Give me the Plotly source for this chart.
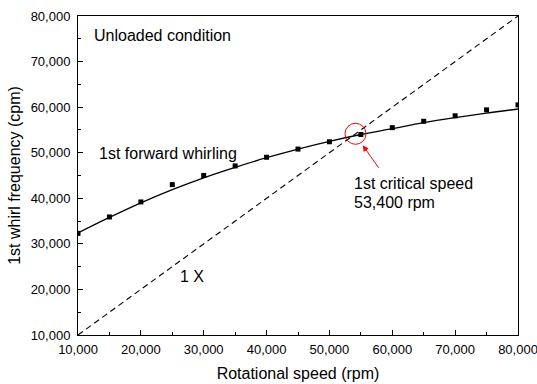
import plotly.graph_objects as go

# Measured data points
speed_rpm = [10000, 15000, 20000, 25000, 30000, 35000, 40000, 45000,
             50000, 55000, 60000, 65000, 70000, 75000, 80000]
whirl_cpm = [32300, 35900, 39200, 43000, 45000, 47100, 49000, 50800,
             52400, 54000, 55500, 56900, 58100, 59400, 60500]

# Fitted curve
fit_speed = [10000, 15000, 20000, 25000, 30000, 35000, 40000, 45000,
             50000, 55000, 60000, 65000, 70000, 75000, 80000]
fit_cpm = [32400, 35800, 39000, 41900, 44500, 46800, 48900, 50800,
           52500, 54000, 55300, 56600, 57700, 58700, 59600]

# 1X line
onex_speed = [10000, 80000]
onex_cpm = [10000, 80000]

tick_vals = [10000, 20000, 30000, 40000, 50000, 60000, 70000, 80000]
tick_text = ["10,000", "20,000", "30,000", "40,000", "50,000", "60,000", "70,000", "80,000"]

FONT = "Liberation Sans, Arial, sans-serif"

fig = go.Figure()
fig.add_trace(go.Scatter(x=onex_speed, y=onex_cpm, mode="lines",
                         line=dict(color="black", width=1.1, dash="6px,4px"),
                         showlegend=False, hoverinfo="skip"))
fig.add_trace(go.Scatter(x=fit_speed, y=fit_cpm, mode="lines", line_shape="spline",
                         line=dict(color="black", width=1.3),
                         showlegend=False))
fig.add_trace(go.Scatter(x=speed_rpm, y=whirl_cpm, mode="markers",
                         marker=dict(symbol="square", size=5, color="black"),
                         showlegend=False))

axis_common = dict(
    range=[10000, 80000], tickvals=tick_vals, ticktext=tick_text,
    ticks="inside", ticklen=5, tickwidth=1, tickcolor="black",
    minor=dict(dtick=5000, ticks="inside", ticklen=3, tickwidth=1, tickcolor="black", tick0=10000),
    showline=True, linecolor="black", linewidth=1, mirror=True,
    showgrid=False, zeroline=False, automargin=False,
    ticklabeloverflow="allow",
    tickfont=dict(family=FONT, size=13, color="black"),
)

fig.update_xaxes(**axis_common, ticklabelstandoff=2,
                 title=dict(text="Rotational speed (rpm)", font=dict(family=FONT, size=16, color="black"), standoff=12))
fig.update_yaxes(**axis_common, ticklabelstandoff=4,
                 title=dict(text="1st whirl frequency (cpm)", font=dict(family=FONT, size=16, color="black"), standoff=6))

txt = dict(family=FONT, size=16, color="black")
fig.add_annotation(x=12180, y=75765, text="Unloaded condition", showarrow=False,
                   xanchor="left", yanchor="middle", font=txt)
fig.add_annotation(x=13070, y=49805, text="1st forward whirling", showarrow=False,
                   xanchor="left", yanchor="middle", font=txt)
fig.add_annotation(x=25960, y=22880, text="1 X", showarrow=False,
                   xanchor="left", yanchor="middle", font=txt)
fig.add_annotation(x=53590, y=43350, text="1st critical speed", showarrow=False,
                   xanchor="left", yanchor="middle", font=txt)
fig.add_annotation(x=53590, y=39185, text="53,400 rpm", showarrow=False,
                   xanchor="left", yanchor="middle", font=txt)

# red arrow
fig.add_annotation(x=55300, y=51630, ax=17, ay=24, text="", showarrow=True,
                   arrowhead=2, arrowsize=1.2, arrowwidth=1, arrowcolor="red")

# red circle
fig.add_shape(type="circle", xref="x", yref="y", xsizemode="pixel", ysizemode="pixel",
              xanchor=54150, yanchor=54150, x0=-10.5, x1=10.5, y0=-10.5, y1=10.5,
              line=dict(color="red", width=1))

fig.update_layout(
    width=537, height=384,
    margin=dict(l=78, r=19, t=16, b=49),
    plot_bgcolor="white", paper_bgcolor="white",
    font=dict(family=FONT, color="black"),
)

fig.write_html("out.html", config={"displayModeBar": False},
               post_script="document.body.style.margin='0';")
